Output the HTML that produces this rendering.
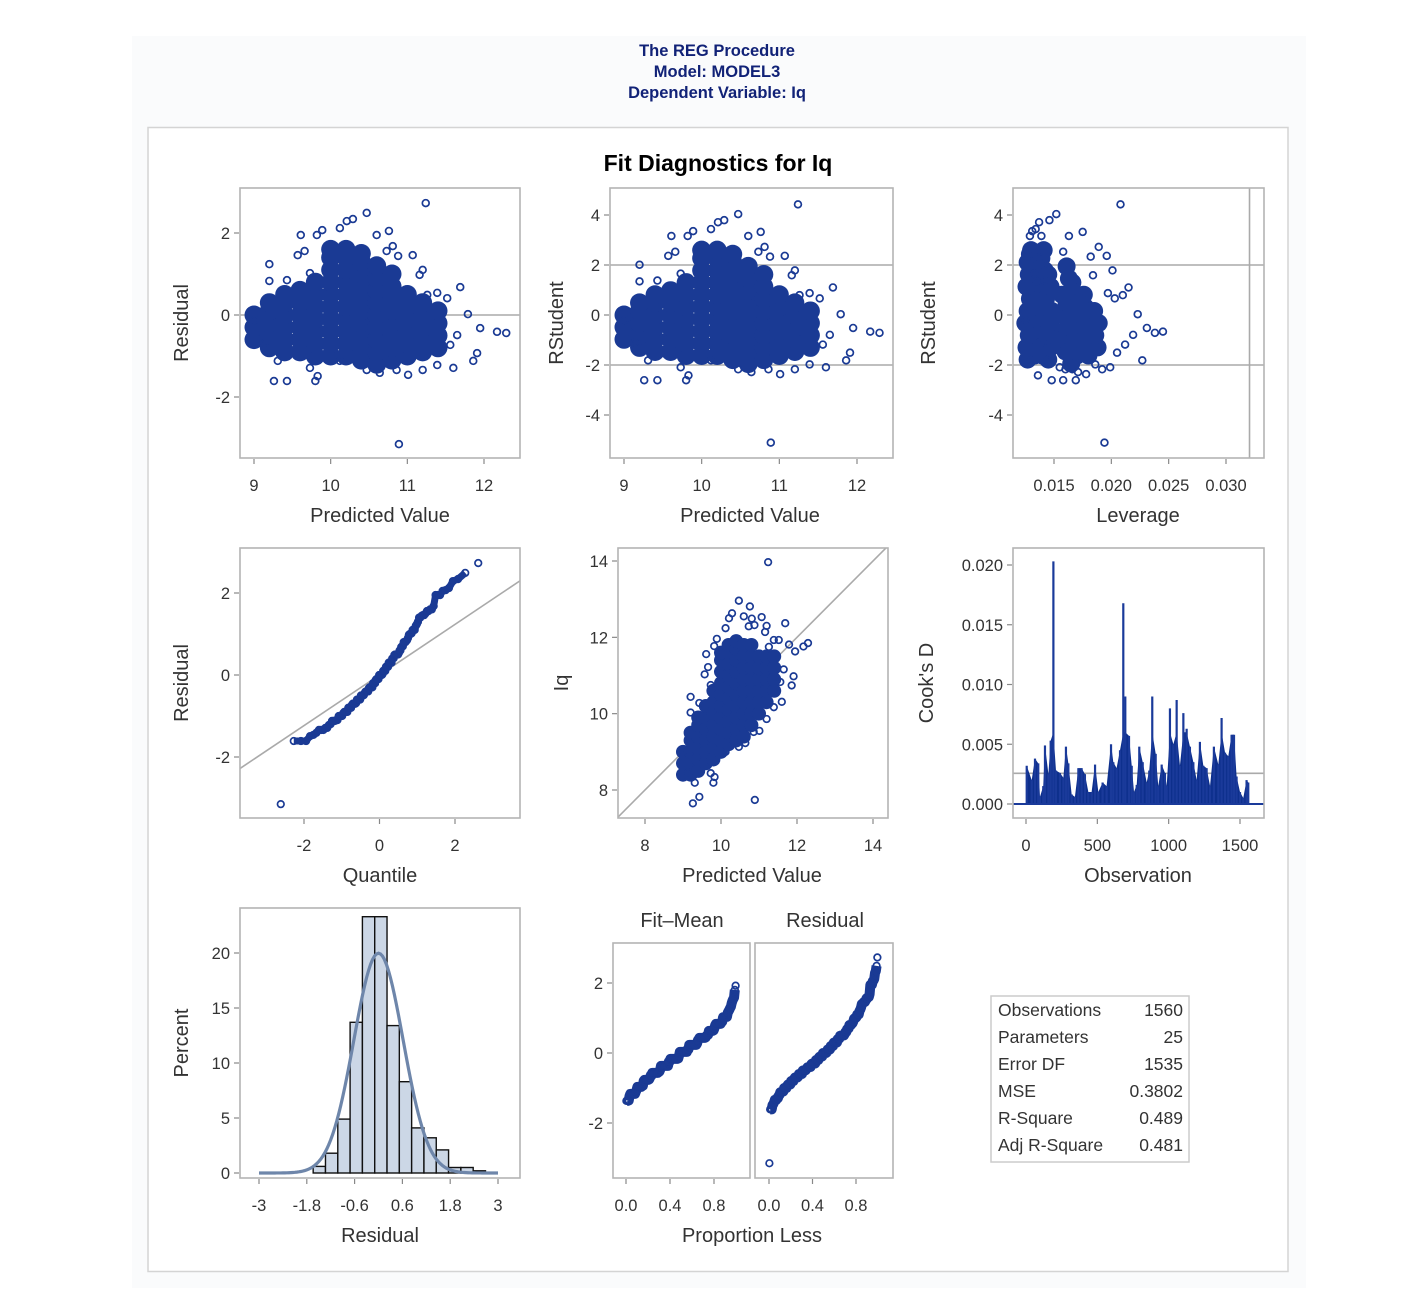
<!DOCTYPE html>
<html><head><meta charset="utf-8"><style>
html,body{margin:0;padding:0;background:#fff;}
svg{display:block;}
text{font-family:"Liberation Sans",sans-serif;}
</style></head><body>
<svg id="chart" xmlns="http://www.w3.org/2000/svg" width="1428" height="1316" viewBox="0 0 1428 1316">
<rect x="132" y="36" width="1174" height="1252" fill="#fafbfc"/>
<g fill="#112277" font-weight="bold" font-size="16.5" text-anchor="middle" style="font-family:'Liberation Sans Narrow','Liberation Sans',sans-serif">
<text x="717" y="56">The REG Procedure</text>
<text x="717" y="77">Model: MODEL3</text>
<text x="717" y="98">Dependent Variable: Iq</text>
</g>
<rect x="148" y="127.5" width="1140" height="1144" fill="#fff" stroke="#d4d4d4" stroke-width="1.5"/>
<text x="718" y="171" font-size="23" font-weight="bold" text-anchor="middle" fill="#000">Fit Diagnostics for Iq</text>
<g id="plots"></g>
</svg>
<script>
// ---- data ----
const corePred = [9.0,9.0,9.0, 9.2,9.2,9.2,9.2,9.2, 9.4,9.4,9.4,9.4,9.4,9.4, 9.6,9.6,9.6,9.6,9.6,9.6, 9.8,9.8,9.8,9.8,9.8,9.8,9.8,
 10.0,10.0,10.0,10.0,10.0,10.0,10.0,10.0,10.0,10.0, 10.2,10.2,10.2,10.2,10.2,10.2,10.2,10.2,10.2,10.2,
 10.4,10.4,10.4,10.4,10.4,10.4,10.4,10.4,10.4,10.4, 10.6,10.6,10.6,10.6,10.6,10.6,10.6,10.6,10.6,
 10.8,10.8,10.8,10.8,10.8,10.8,10.8,10.8, 11.0,11.0,11.0,11.0,11.0,11.0, 11.2,11.2,11.2,11.2,11.2, 11.4,11.4,11.4,11.4];
const coreResid = [-0.6,-0.3,0.0, -0.8,-0.5,-0.2,0.1,0.3, -0.9,-0.6,-0.3,0.0,0.3,0.5, -0.9,-0.6,-0.3,0.0,0.3,0.6, -1.0,-0.7,-0.4,-0.1,0.2,0.5,0.8,
 -1.0,-0.7,-0.4,-0.1,0.2,0.5,0.8,1.1,1.4,1.6, -1.0,-0.7,-0.4,-0.1,0.2,0.5,0.8,1.1,1.4,1.6,
 -1.1,-0.8,-0.5,-0.2,0.1,0.4,0.7,1.0,1.3,1.5, -1.2,-0.9,-0.6,-0.3,0.0,0.3,0.6,0.9,1.2,
 -1.1,-0.8,-0.5,-0.2,0.1,0.4,0.7,1.0, -1.0,-0.7,-0.4,-0.1,0.2,0.5, -0.9,-0.6,-0.3,0.0,0.3, -0.8,-0.5,-0.2,0.1];
const coreLev = [0.0150,0.0148,0.0152, 0.0135,0.0137,0.0134,0.0136,0.0138, 0.0160,0.0158,0.0162,0.0159,0.0161,0.0157, 0.0130,0.0132,0.0129,0.0131,0.0133,0.0130,
 0.0170,0.0168,0.0172,0.0169,0.0171,0.0167,0.0166, 0.0140,0.0142,0.0139,0.0141,0.0143,0.0138,0.0140,0.0142,0.0139,0.0141,
 0.0133,0.0135,0.0132,0.0134,0.0136,0.0131,0.0133,0.0134,0.0132,0.0130, 0.0127,0.0126,0.0128,0.0125,0.0127,0.0129,0.0126,0.0128,0.0127,0.0129,
 0.0165,0.0163,0.0167,0.0164,0.0166,0.0162,0.0165,0.0163,0.0161, 0.0145,0.0147,0.0144,0.0146,0.0148,0.0143,0.0147,0.0145,
 0.0180,0.0178,0.0182,0.0179,0.0177,0.0176, 0.0175,0.0173,0.0176,0.0174,0.0172, 0.0188,0.0186,0.0189,0.0185];
const outPred = [11.24,10.89,9.61,9.89,10.21,10.29,10.47,10.76,10.60,10.81,11.07,10.88,9.20,9.20,9.43,9.57,9.73,11.20,11.69,11.79,11.95,12.17,12.29,
 11.91,11.86,11.60,11.39,11.20,11.01,10.86,10.64,10.47,9.26,9.43,9.80,9.83,9.31,9.73,10.12,11.56,11.65,11.52,11.39,11.26,9.14,9.01,11.16,10.73,10.12,9.82,9.66];
const outResid = [2.73,-3.15,1.95,2.07,2.29,2.34,2.49,2.05,1.95,1.68,1.46,1.44,1.24,0.83,0.85,1.46,1.02,1.10,0.68,0.02,-0.32,-0.41,-0.44,
 -0.93,-1.12,-1.29,-1.22,-1.34,-1.46,-1.34,-1.41,-1.34,-1.61,-1.61,-1.61,-1.49,-1.12,-1.29,-1.12,-0.73,-0.49,0.41,0.54,0.49,-0.68,-0.12,0.98,1.56,2.12,1.95,1.56];
const outLev = [0.0208,0.0194,0.0139,0.0131,0.0137,0.0146,0.0152,0.0175,0.0163,0.0189,0.0196,0.0182,0.0141,0.0135,0.0142,0.0128,0.0133,0.0201,0.0215,0.0223,0.0231,0.0245,0.0238,
 0.0205,0.0227,0.0199,0.0186,0.0192,0.0178,0.0166,0.0171,0.0160,0.0158,0.0169,0.0148,0.0136,0.0144,0.0155,0.0130,0.0212,0.0219,0.0203,0.0197,0.0210,0.0140,0.0125,0.0184,0.0158,0.0134,0.0129,0.0137];
const cookObs = [5,40,63,86,98,121,133,157,173,192,210,238,262,280,297,320,343,367,390,413,437,460,484,507,537,565,596,612,635,659,682,696,722,741,757,776,794,818,846,864,885,909,927,951,974,986,1009,1033,1056,1079,1103,1126,1149,1173,1196,1219,1243,1266,1290,1317,1348,1371,1395,1418,1441,1458,1476,1500,1523,1546,1558];
const cookD = [3.2,2.0,3.8,3.4,0.6,1.5,4.9,2.5,5.3,20.3,2.8,2.6,2.2,4.8,3.4,0.8,0.6,3.0,3.0,2.5,1.0,1.0,3.3,1.0,1.8,1.5,5.0,3.5,3.0,4.5,16.8,9.0,5.7,3.2,1.0,1.6,4.8,3.5,1.8,2.8,9.0,4.2,1.5,3.3,2.6,1.5,8.0,5.0,8.7,3.2,7.6,6.3,4.8,3.5,2.0,5.2,3.2,3.0,1.5,4.8,3.3,7.2,4.3,4.0,5.8,5.8,2.3,1.0,0.5,2.0,1.8]; // x 0.001
const histStart = -1.64, histWidth = 0.309;
const histPct = [0.6,1.8,4.9,13.7,23.3,23.3,13.4,8.3,4.1,3.2,2.1,0.5,0.5,0.2];
const statLabels = ["Observations","Parameters","Error DF","MSE","R-Square","Adj R-Square"];
const statValues = ["1560","25","1535","0.3802","0.489","0.481"];
const rmse = 0.617, nObs = 1560, nParm = 25;

// ---- helpers ----
const NS="http://www.w3.org/2000/svg";
const root=document.getElementById('plots');
const BLUE="#1a3a94";
function lin(d0,d1,r0,r1){return v=>r0+(v-d0)*(r1-r0)/(d1-d0);}
function el(tag,attrs,parent){const e=document.createElementNS(NS,tag);for(const k in attrs)e.setAttribute(k,attrs[k]);(parent||root).appendChild(e);return e;}
let clipN=0;
function frame(x0,y0,x1,y1,name){
  const id='clip'+(clipN++);
  const cp=el('clipPath',{id:id});el('rect',{x:x0,y:y0,width:x1-x0,height:y1-y0},cp);
  const g=el('g',{'clip-path':'url(#'+id+')'});
  
  
  const r=el('rect',{x:x0,y:y0,width:x1-x0,height:y1-y0,fill:'none',stroke:'#b4b4b4','stroke-width':1.6});
  
  
  return g;
}
function xTicks(vals,labels,sx,yb,name){
  vals.forEach((v,i)=>{const x=sx(v);
    el('line',{x1:x,x2:x,y1:yb+1,y2:yb+6,stroke:'#888','stroke-width':1.2});
    const t=el('text',{x:x,y:yb+33,'font-size':16.5,'text-anchor':'middle',fill:'#333'});t.textContent=labels[i];
    
    
  });
}
function yTicks(vals,labels,sy,xl,name){
  vals.forEach((v,i)=>{const y=sy(v);
    el('line',{x1:xl-6,x2:xl-1,y1:y,y2:y,stroke:'#888','stroke-width':1.2});
    const t=el('text',{x:xl-10,y:y+6,'font-size':16.5,'text-anchor':'end',fill:'#333'});t.textContent=labels[i];
    
    
  });
}
function xTitle(txt,x,y,name){const t=el('text',{x:x,y:y,'font-size':20,'text-anchor':'middle',fill:'#333'});t.textContent=txt;
  
  }
function yTitle(txt,x,y,name){const t=el('text',{x:x,y:y,'font-size':20,'text-anchor':'middle',fill:'#333',transform:'rotate(-90 '+x+' '+y+')'});t.textContent=txt;
  
  }
function refLine(g,x1,y1,x2,y2,name){const l=el('line',{x1:x1,y1:y1,x2:x2,y2:y2,stroke:'#aaa','stroke-width':1.6},g);
  
  }
function ring(g,x,y,r,name){const c=el('circle',{cx:x,cy:y,r:r,fill:'none',stroke:BLUE,'stroke-width':1.7},g);
  
  }
function dot(g,x,y,r,name){const c=el('circle',{cx:x,cy:y,r:r,fill:BLUE},g);
  
  }

const allPred=corePred.concat(outPred), allResid=coreResid.concat(outResid);

// ---- Plot 1: residual vs predicted ----
(function(){
  const sx=lin(9,12,254,484), sy=lin(-2,2,397,233);
  const g=frame(240,188,520,458,'residual-by-predicted');
  refLine(g,240,sy(0),520,sy(0),'zero-reference-line');
  corePred.forEach((p,i)=>dot(g,sx(p),sy(coreResid[i]),9.5,'residual-point'));
  outPred.forEach((p,i)=>ring(g,sx(p),sy(outResid[i]),3.4,'residual-point'));
  xTicks([9,10,11,12],['9','10','11','12'],sx,458,'residual-by-predicted');
  yTicks([-2,0,2],['-2','0','2'],sy,240,'residual-by-predicted');
  xTitle('Predicted Value',380,522,'residual-by-predicted');yTitle('Residual',188,323,'residual-by-predicted');
})();
// ---- Plot 2: RStudent vs predicted ----
(function(){
  const sx=lin(9,12,624,857), sy=lin(-4,4,415,215);
  const g=frame(610,188,893,458,'rstudent-by-predicted');
  [-2,2].forEach(v=>refLine(g,610,sy(v),893,sy(v),'rstudent-reference-line'));
  corePred.forEach((p,i)=>dot(g,sx(p),sy(coreResid[i]/rmse),9.5,'rstudent-point'));
  outPred.forEach((p,i)=>ring(g,sx(p),sy(outResid[i]/rmse),3.4,'rstudent-point'));
  xTicks([9,10,11,12],['9','10','11','12'],sx,458,'rstudent-by-predicted');
  yTicks([-4,-2,0,2,4],['-4','-2','0','2','4'],sy,610,'rstudent-by-predicted');
  xTitle('Predicted Value',750,522,'rstudent-by-predicted');yTitle('RStudent',563,323,'rstudent-by-predicted');
})();
// ---- Plot 3: RStudent vs leverage ----
(function(){
  const sx=lin(0.015,0.030,1054,1226), sy=lin(-4,4,415,215);
  const g=frame(1013,188,1264,458,'rstudent-by-leverage');
  [-2,2].forEach(v=>refLine(g,1013,sy(v),1264,sy(v),'rstudent-reference-line'));
  const lc=sx(2*nParm/nObs);refLine(g,lc,188,lc,458,'leverage-cutoff-line');
  corePred.forEach((p,i)=>dot(g,sx(coreLev[i]),sy(coreResid[i]/rmse),9,'leverage-point'));
  outPred.forEach((p,i)=>ring(g,sx(outLev[i]),sy(outResid[i]/rmse),3.4,'leverage-point'));
  xTicks([0.015,0.020,0.025,0.030],['0.015','0.020','0.025','0.030'],sx,458,'rstudent-by-leverage');
  yTicks([-4,-2,0,2,4],['-4','-2','0','2','4'],sy,1013,'rstudent-by-leverage');
  xTitle('Leverage',1138,522,'rstudent-by-leverage');yTitle('RStudent',935,323,'rstudent-by-leverage');
})();
// normal quantile
function qnorm(p){const a=[-39.6968302866538,220.946098424521,-275.928510446969,138.357751867269,-30.6647980661472,2.50662827745924],
b=[-54.4760987982241,161.585836858041,-155.698979859887,66.8013118877197,-13.2806815528857],
c=[-0.00778489400243029,-0.322396458041136,-2.40075827716184,-2.54973253934373,4.37466414146497,2.93816398269878],
d=[0.00778469570904146,0.32246712907004,2.445134137143,3.75440866190742];
if(p<0.02425){const q=Math.sqrt(-2*Math.log(p));return (((((c[0]*q+c[1])*q+c[2])*q+c[3])*q+c[4])*q+c[5])/((((d[0]*q+d[1])*q+d[2])*q+d[3])*q+1);}
if(p>1-0.02425){const q=Math.sqrt(-2*Math.log(1-p));return -(((((c[0]*q+c[1])*q+c[2])*q+c[3])*q+c[4])*q+c[5])/((((d[0]*q+d[1])*q+d[2])*q+d[3])*q+1);}
const q=p-0.5,r=q*q;return (((((a[0]*r+a[1])*r+a[2])*r+a[3])*r+a[4])*r+a[5])*q/(((((b[0]*r+b[1])*r+b[2])*r+b[3])*r+b[4])*r+1);}
// ---- Plot 4: QQ ----
(function(){
  const sx=lin(-2,2,304,455), sy=lin(-2,2,757,593);
  const g=frame(240,548,520,818,'residual-qq');
  refLine(g,sx(-4),sy(-4*rmse),sx(4),sy(4*rmse),'normal-reference-line');
  const s=allResid.slice().sort((a,b)=>a-b), n=s.length;
  const qs=s.map((v,i)=>qnorm((i+1-0.375)/(n+0.25)));
  el('polyline',{points:s.slice(1,n-1).map((v,i)=>sx(qs[i+1])+','+sy(v)).join(' '),fill:'none',stroke:BLUE,'stroke-width':7,'stroke-linejoin':'round'},g);
  s.forEach((v,i)=>ring(g,sx(qs[i]),sy(v),3.3,'qq-point'));
  xTicks([-2,0,2],['-2','0','2'],sx,818,'residual-qq');
  yTicks([-2,0,2],['-2','0','2'],sy,240,'residual-qq');
  xTitle('Quantile',380,882,'residual-qq');yTitle('Residual',188,683,'residual-qq');
})();
// ---- Plot 5: Iq vs predicted ----
(function(){
  const sx=lin(8,14,645,873), sy=lin(8,14,790,561);
  const g=frame(618,548,888,818,'observed-by-predicted');
  refLine(g,sx(7),sy(7),sx(15),sy(15),'identity-line');
  corePred.forEach((p,i)=>dot(g,sx(p),sy(p+coreResid[i]),7,'observed-point'));
  outPred.forEach((p,i)=>ring(g,sx(p),sy(p+outResid[i]),3.3,'observed-point'));
  xTicks([8,10,12,14],['8','10','12','14'],sx,818,'observed-by-predicted');
  yTicks([8,10,12,14],['8','10','12','14'],sy,618,'observed-by-predicted');
  xTitle('Predicted Value',752,882,'observed-by-predicted');yTitle('Iq',568,683,'observed-by-predicted');
})();
// ---- Plot 6: Cook's D ----
(function(){
  const sx=lin(0,1500,1026,1240), sy=lin(0,0.02,804,565);
  const g=frame(1013,548,1264,818,'cooks-d');
  refLine(g,1013,sy(4/nObs),1264,sy(4/nObs),'cooks-d-cutoff-line');
  const area=el('path',{d:'M'+sx(cookObs[0])+','+sy(0)+' '+cookObs.map((o,i)=>'L'+sx(o)+','+sy(Math.min(cookD[i],6)*0.001)).join(' ')+' L'+sx(cookObs[cookObs.length-1])+','+sy(0)+'Z',fill:'#0d2f8c'},g);
  
  
  cookObs.forEach((o,i)=>{const l=el('line',{x1:sx(o),x2:sx(o),y1:sy(0),y2:sy(cookD[i]*0.001),stroke:'#1a3a9a','stroke-width':2.2},g);
    
    });
  el('line',{x1:1013,x2:1264,y1:sy(0),y2:sy(0),stroke:'#1a3a9a','stroke-width':2},g);
  xTicks([0,500,1000,1500],['0','500','1000','1500'],sx,818,'cooks-d');
  yTicks([0,0.005,0.010,0.015,0.020],['0.000','0.005','0.010','0.015','0.020'],sy,1013,'cooks-d');
  xTitle('Observation',1138,882,'cooks-d');yTitle("Cook's D",933,683,'cooks-d');
})();
// ---- Plot 7: histogram ----
(function(){
  const sx=lin(-3,3,259,498), sy=lin(0,20,1173,953);
  const g=frame(240,908,520,1178,'residual-histogram');
  histPct.forEach((p,i)=>{const a=histStart+i*histWidth;
    const r=el('rect',{x:sx(a),y:sy(p),width:sx(a+histWidth)-sx(a),height:sy(0)-sy(p),fill:'#ccd7e6',stroke:'#111','stroke-width':1.4},g);
    
    });
  const pts=[];for(let k=0;k<=120;k++){const x=-3+k*0.05;pts.push(sx(x)+','+sy(100*histWidth*Math.exp(-x*x/(2*rmse*rmse))/(rmse*Math.sqrt(2*Math.PI))));}
  const c=el('polyline',{points:pts.join(' '),fill:'none',stroke:'#6e86aa','stroke-width':3.2},g);
  
  
  xTicks([-3,-1.8,-0.6,0.6,1.8,3],['-3','-1.8','-0.6','0.6','1.8','3'],sx,1178,'residual-histogram');
  yTicks([0,5,10,15,20],['0','5','10','15','20'],sy,240,'residual-histogram');
  xTitle('Residual',380,1242,'residual-histogram');yTitle('Percent',188,1043,'residual-histogram');
})();
// ---- Plot 8: residual-fit spread ----
(function(){
  const sy=lin(-2,2,1123,983);
  const mean=allPred.reduce((a,b)=>a+b,0)/allPred.length;
  const fm=allPred.map(p=>p-mean).sort((a,b)=>a-b), rs=allResid.slice().sort((a,b)=>a-b);
  [[613,750,626,714,fm,'fit-mean'],[755,893,769,856,rs,'residual-spread']].forEach(cfg=>{
    const sx=lin(0,0.8,cfg[2],cfg[3]);const g=frame(cfg[0],943,cfg[1],1178,cfg[5]);
    const s=cfg[4],n=s.length;
    el('polyline',{points:s.slice(1,n-1).map((v,i)=>sx((i+1.5)/n)+','+sy(v)).join(' '),fill:'none',stroke:BLUE,'stroke-width':10,'stroke-linejoin':'round'},g);
    s.forEach((v,i)=>ring(g,sx((i+0.5)/n),sy(v),3.3,cfg[5]+'-point'));
    xTicks([0,0.4,0.8],['0.0','0.4','0.8'],sx,1178,cfg[5]);
  });
  yTicks([-2,0,2],['-2','0','2'],sy,613,'fit-mean');
  const h1=el('text',{x:682,y:927,'font-size':20,'text-anchor':'middle',fill:'#333'});h1.textContent='Fit–Mean';
  
  
  const h2=el('text',{x:825,y:927,'font-size':20,'text-anchor':'middle',fill:'#333'});h2.textContent='Residual';
  
  
  xTitle('Proportion Less',752,1242,'residual-fit-spread');
})();
// ---- stats table ----
(function(){
  const b=el('rect',{x:991,y:996,width:198,height:166,fill:'#fff',stroke:'#ccc','stroke-width':1.5});
  
  
  statLabels.forEach((l,i)=>{const y=1016+i*27;
    const t=el('text',{x:998,y:y,'font-size':17.5,fill:'#333'});t.textContent=l;
    
    
    const v=el('text',{x:1183,y:y,'font-size':17.5,fill:'#333','text-anchor':'end'});v.textContent=statValues[i];
    
    });
})();
</script>
</body></html>
